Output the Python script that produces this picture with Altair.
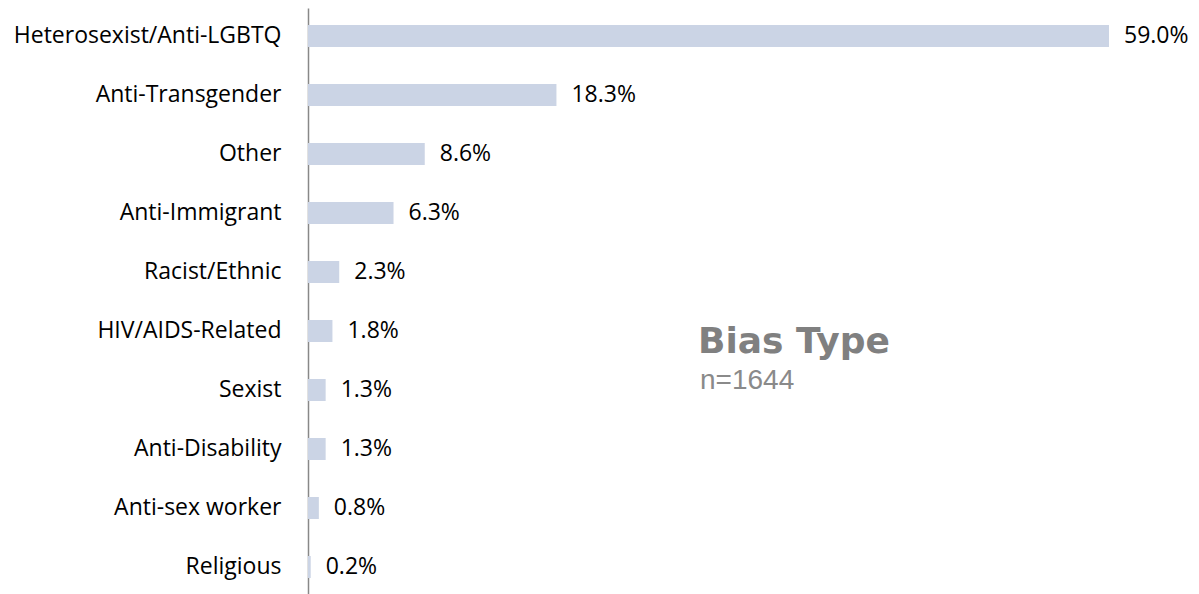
import altair as alt
import pandas as pd

categories = ["Heterosexist/Anti-LGBTQ", "Anti-Transgender", "Other", "Anti-Immigrant",
              "Racist/Ethnic", "HIV/AIDS-Related", "Sexist", "Anti-Disability",
              "Anti-sex worker", "Religious"]
values = [59.0, 18.3, 8.6, 6.3, 2.3, 1.8, 1.3, 1.3, 0.8, 0.2]

df = pd.DataFrame({"cat": categories, "val": values})
df["lbl"] = [f"{v:.1f}%" for v in values]

FONT = "Open Sans"
FS = 23

y_enc = alt.Y("cat:N", sort=categories,
              scale=alt.Scale(paddingInner=0.627, paddingOuter=0.288),
              axis=alt.Axis(title=None, ticks=False, labelFontSize=FS, labelFont=FONT,
                            labelColor="#000000", labelPadding=27, labelLimit=0,
                            domainColor="#888888", domainWidth=1.5, grid=False))
x_enc = alt.X("val:Q", scale=alt.Scale(domain=[0, 59], nice=False, zero=True),
              axis=None)

bars = alt.Chart(df).mark_bar(color="#CBD4E5").encode(x=x_enc, y=y_enc)
labels = alt.Chart(df).mark_text(align="left", baseline="middle", dx=15,
                                 fontSize=FS, font=FONT, color="#000000").encode(
    x=x_enc, y=y_enc, text="lbl:N")

title_df = pd.DataFrame({"t": ["Bias Type"]})
sub_df = pd.DataFrame({"t": ["n=1644"]})
title = alt.Chart(title_df).mark_text(align="left", baseline="alphabetic", fontSize=36,
                                      font="DejaVu Sans", fontWeight="bold", color="#808080").encode(
    x=alt.value(390), y=alt.value(345), text="t:N")
sub = alt.Chart(sub_df).mark_text(align="left", baseline="alphabetic", fontSize=28,
                                  font="Liberation Sans", color="#8a8a8a").encode(
    x=alt.value(392), y=alt.value(381), text="t:N")

chart = alt.layer(bars, labels, title, sub).properties(
    width=801, height=587,
    autosize=alt.AutoSizeParams(type="none"),
    padding={"left": 300, "top": 0, "right": 80, "bottom": 0},
).configure_view(stroke=None)

chart.save("out.html", embed_options={"renderer": "svg", "actions": False})
